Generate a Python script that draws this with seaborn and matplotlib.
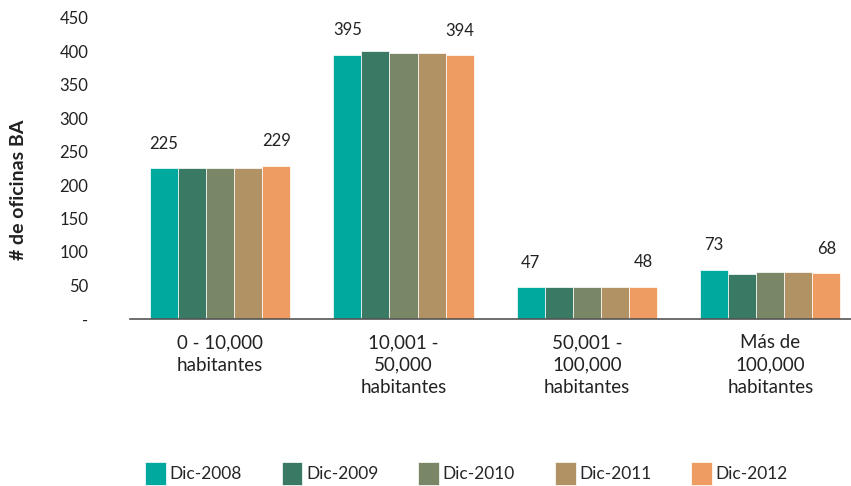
import matplotlib
matplotlib.use("Agg")
import matplotlib.pyplot as plt
import seaborn as sns
import pandas as pd

categories = ["0 - 10,000\nhabitantes", "10,001 -\n50,000\nhabitantes",
              "50,001 -\n100,000\nhabitantes", "Más de\n100,000\nhabitantes"]
series = ["Dic-2008", "Dic-2009", "Dic-2010", "Dic-2011", "Dic-2012"]
dic_2008 = [225, 395, 47, 73]
dic_2009 = [225, 401, 47, 67]
dic_2010 = [225, 398, 47, 70]
dic_2011 = [225, 398, 47, 70]
dic_2012 = [229, 394, 48, 68]
colors = ["#00A99D", "#3A7A64", "#7A8767", "#B09264", "#EF9C63"]

rows = []
for name, vals in zip(series, [dic_2008, dic_2009, dic_2010, dic_2011, dic_2012]):
    for cat, v in zip(categories, vals):
        rows.append({"cat": cat, "serie": name, "value": v})
df = pd.DataFrame(rows)

sns.set_theme(style="white")
plt.rcParams["font.family"] = ["Lato", "DejaVu Sans"]

fig = plt.figure(figsize=(8.51, 4.86), dpi=100)
ax = fig.add_axes([0.153, 0.344, 0.847, 0.619])
sns.barplot(data=df, x="cat", y="value", hue="serie", palette=colors, saturation=1,
            width=0.765, edgecolor="white", linewidth=0.5, ax=ax, legend=True)

ax.set_ylim(0, 450)
ax.set_xlim(-0.49, 3.44)
ax.set_yticks(range(0, 451, 50))
ax.set_yticklabels(["-"] + [str(v) for v in range(50, 451, 50)])
ax.tick_params(axis="y", length=0, pad=30, labelsize=12, labelcolor="#222222")
ax.set_xticks(range(len(categories)))
ax.set_xticklabels(categories, linespacing=1.4)
ax.tick_params(axis="x", length=0, pad=11, labelsize=13.5, labelcolor="#222222")
for s in ["top", "right", "left"]:
    ax.spines[s].set_visible(False)
ax.spines["bottom"].set_color("#555555")
ax.spines["bottom"].set_linewidth(1.2)
ax.set_xlabel("")
ax.set_ylabel("")
fig.text(0.022, 0.61, "# de oficinas BA", rotation=90, ha="center", va="center",
         fontsize=14, fontweight="bold", color="#222222")

# etiquetas solo en primera y ultima serie
for i, cont in enumerate(ax.containers):
    if i in (0, len(ax.containers) - 1):
        ax.bar_label(cont, padding=12, fontsize=12, color="#222222")

handles, labels = ax.get_legend_handles_labels()
ax.get_legend().remove()
fig.legend(handles, labels, loc="lower center", bbox_to_anchor=(0.548, -0.03),
           ncol=5, frameon=False, fontsize=12.5, handlelength=1.2, handleheight=1.7,
           columnspacing=2.3, handletextpad=0.2)

fig.savefig("out.png", dpi=100)
